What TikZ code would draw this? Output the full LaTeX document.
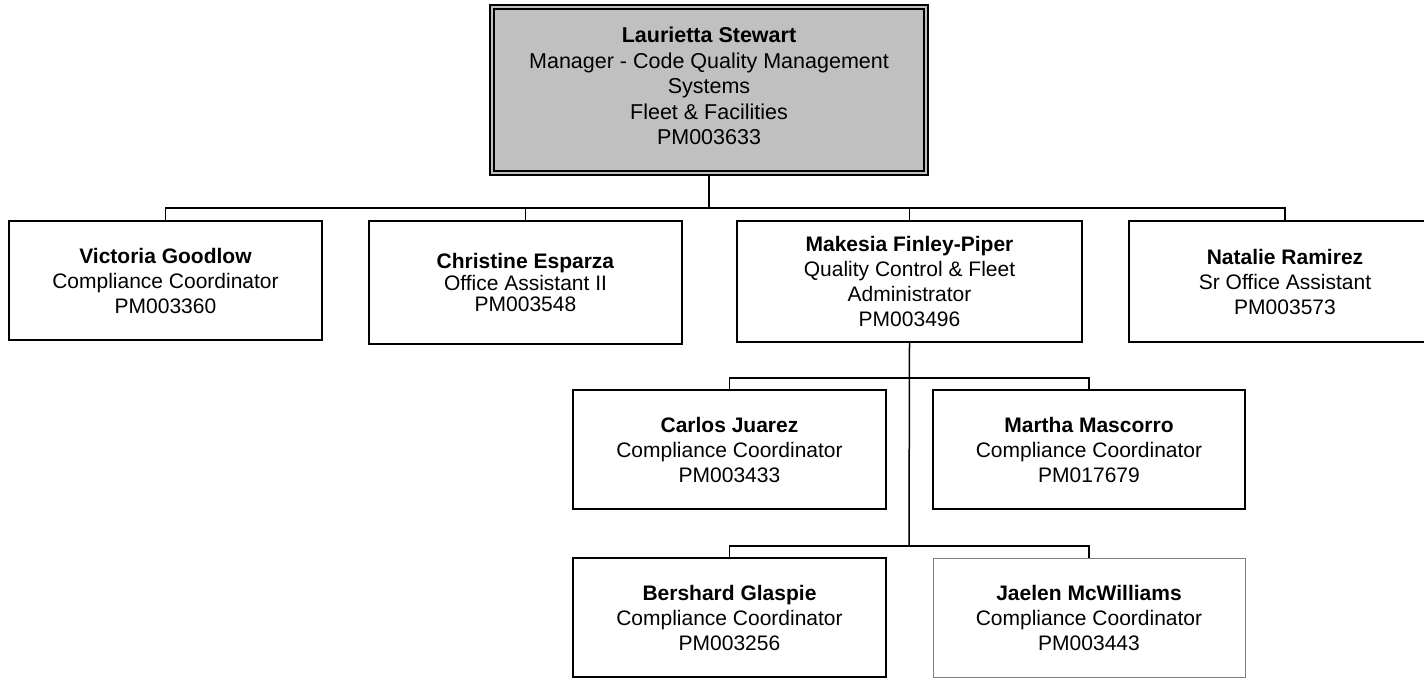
\documentclass[tikz,border=0pt]{standalone}
\usepackage{fontspec}
\setmainfont{Liberation Sans}
\definecolor{boxgray}{HTML}{C0C0C0}
\definecolor{softgray}{HTML}{808080}
\begin{document}
\begin{tikzpicture}[x=1pt,y=-1pt,
  box/.style={draw=black,line width=1.5pt,fill=white,inner sep=0pt,align=center,
    font=\fontsize{21}{25}\selectfont,minimum width=313pt,minimum height=119pt},
  conn/.style={line width=1.5pt,draw=black},
]
\useasboundingbox (0,0) rectangle (1424,679);
\fill[white] (0,0) rectangle (1424,679);
\clip (0,0) rectangle (1424,679);

% top manager box
\node[draw=black,line width=2pt,fill=boxgray,inner sep=0pt,
  minimum width=438pt,minimum height=170pt] (top) at (709,90) {};
\draw[line width=1.5pt] ([xshift=5pt,yshift=-5pt]top.north west) rectangle ([xshift=-5pt,yshift=5pt]top.south east);
\node[align=center,inner sep=0pt,font=\fontsize{21.5}{25.5}\selectfont] (toptxt) at (709,86)
  {\textbf{Laurietta Stewart}\\Manager - Code Quality Management\\Systems\\Fleet \& Facilities\\PM003633};

% level 1
\node[box] (vic) at (165.5,280.5) {\textbf{Victoria Goodlow}\\Compliance Coordinator\\PM003360};
\node[box,minimum height=123pt,font=\fontsize{21}{21.5}\selectfont] (chr) at (525.5,282.5) {\textbf{Christine Esparza}\\Office Assistant II\\PM003548};
\node[box,minimum width=345pt,minimum height=121pt] (mak) at (909.5,281.5) {\textbf{Makesia Finley-Piper}\\Quality Control \& Fleet\\Administrator\\PM003496};
\node[box,minimum width=312pt,minimum height=121pt] (nat) at (1285,281.5) {\textbf{Natalie Ramirez}\\Sr Office Assistant\\PM003573};

% level 2
\node[box] (car) at (729.5,449.5) {\textbf{Carlos Juarez}\\Compliance Coordinator\\PM003433};
\node[box,minimum width=312pt] (mar) at (1089,449.5) {\textbf{Martha Mascorro}\\Compliance Coordinator\\PM017679};
\node[box] (ber) at (729.5,617.5) {\textbf{Bershard Glaspie}\\Compliance Coordinator\\PM003256};
\node[box,minimum width=312pt,draw=softgray,line width=1pt] (jae) at (1089,617.5) {\textbf{Jaelen McWilliams}\\Compliance Coordinator\\PM003443};

% connectors
\coordinate (h1) at (709,208);
\coordinate (h2) at (909,378);
\coordinate (h3) at (909,546);
\draw[conn] (top.south) -- (h1);
\draw[conn] (vic.north) |- (h1);
\draw[conn] (chr.north) |- (h1);
\draw[conn] (mak.north) |- (h1);
\draw[conn] (nat.north) |- (h1);
\draw[conn] (mak.south) -- (h3);
\draw[conn] (car.north) |- (h2);
\draw[conn] (mar.north) |- (h2);
\draw[conn] (ber.north) |- (h3);
\draw[conn] (jae.north) |- (h3);
\end{tikzpicture}
\end{document}
